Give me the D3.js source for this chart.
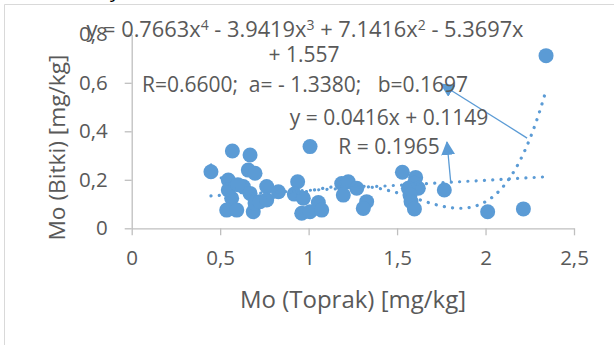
<!DOCTYPE html>
<html>
<head>
<meta charset="utf-8">
<script src="https://cdn.jsdelivr.net/npm/d3@7"></script>
<style>
  body { margin: 0; background: #fff; }
  svg { display: block; font-family: "Open Sans", sans-serif; }
</style>
</head>
<body>
<div id="chart"></div>
<script>
// Mo (Toprak) vs Mo (Bitki) [mg/kg]
const soilMo = [0.448, 0.546, 0.546, 0.565, 0.537, 0.569, 0.594, 0.631, 0.600, 0.659,
  0.669, 0.697, 0.669, 0.687, 0.697, 0.725, 0.763, 0.763, 0.829, 0.938,
  0.919, 0.970, 0.961, 1.008, 1.055, 1.074, 1.008, 1.187, 1.224, 1.196,
  1.272, 1.328, 1.309, 1.530, 1.605, 1.598, 1.620, 1.564, 1.573, 1.579,
  1.598, 1.767, 2.012, 2.214, 2.342]
const plantMo = [0.233, 0.199, 0.158, 0.124, 0.075, 0.319, 0.075, 0.172, 0.180, 0.240,
  0.302, 0.227, 0.144, 0.068, 0.104, 0.110, 0.172, 0.117, 0.151, 0.192,
  0.141, 0.124, 0.062, 0.068, 0.106, 0.075, 0.337, 0.185, 0.192, 0.137,
  0.165, 0.110, 0.082, 0.231, 0.210, 0.186, 0.165, 0.165, 0.137, 0.110,
  0.080, 0.158, 0.068, 0.080, 0.712]

const xTicks = [0, 0.5, 1, 1.5, 2, 2.5]
const yTicks = [0, 0.2, 0.4, 0.6, 0.8]

// trendlines shown on the chart
const linCoef = [0.0416, 0.1149]                              // slope, intercept
const polyCoef = [0.7663, -3.9419, 7.1416, -5.3697, 1.557]     // x^4 .. x^0

const width = 614, height = 345
const blue = '#5b9bd5', grey = '#595959', axisGrey = '#bfbfbf'

const svg = d3.select('#chart').append('svg')
  .attr('width', width)
  .attr('height', height)

// chart frame
svg.append('path')
  .attr('d', 'M4.5,' + height + 'V4.5H' + width)
  .attr('fill', 'none')
  .attr('stroke', '#d9d9d9')
// clipped caption fragment above the chart
svg.append('text')
  .attr('x', 110).attr('y', -3)
  .attr('font-size', 20).attr('fill', '#000')
  .text('y')

const x = d3.scaleLinear().domain([0, 2.5]).range([131.7, 574])
const y = d3.scaleLinear().domain([0, 0.8]).range([228.3, 34.3])
const fmt = d => String(d).replace('.', ',')

// axes
const gx = svg.append('g')
  .attr('transform', 'translate(0,' + y(0) + ')')
  .call(d3.axisBottom(x).tickValues(xTicks).tickFormat(fmt).tickSizeInner(7).tickSizeOuter(0).tickPadding(15))
const gy = svg.append('g')
  .attr('transform', 'translate(' + x(0) + ',0)')
  .call(d3.axisLeft(y).tickValues(yTicks).tickFormat(fmt).tickSizeInner(7).tickSizeOuter(0).tickPadding(17))
for (const g of [gx, gy]) {
  g.select('.domain').attr('stroke', axisGrey).attr('stroke-width', 1.3)
  g.selectAll('.tick line').attr('stroke', axisGrey).attr('stroke-width', 1.3)
  g.selectAll('.tick text').attr('fill', grey).attr('font-size', 20.5)
    .attr('font-family', '"Open Sans", sans-serif')
}

// axis titles
svg.append('text')
  .attr('x', 353).attr('y', 308)
  .attr('text-anchor', 'middle')
  .attr('font-size', 24).attr('fill', grey)
  .text('Mo (Toprak) [mg/kg]')
svg.append('text')
  .attr('transform', 'translate(65,' + 147.5 + ') rotate(-90)')
  .attr('text-anchor', 'middle')
  .attr('font-size', 22.7).attr('fill', grey)
  .text('Mo (Bitki) [mg/kg]')

const data = soilMo.map((v, i) => ({ x: v, y: plantMo[i] }))
const xMin = d3.min(soilMo), xMax = d3.max(soilMo)

// trendlines (dotted)
const line = d3.line().x(d => x(d[0])).y(d => y(d[1]))
const polyVal = v => polyCoef.reduce((acc, c) => acc * v + c, 0)
const polyPts = d3.range(0, 201).map(i => {
  const v = xMin + (xMax - xMin) * i / 200
  return [v, polyVal(v)]
})
const linPts = [xMin, xMax].map(v => [v, linCoef[0] * v + linCoef[1]])

// points
svg.append('g').selectAll('circle')
  .data(data)
  .enter()
  .append('circle')
  .attr('cx', d => x(d.x))
  .attr('cy', d => y(d.y))
  .attr('r', 7.5)
  .attr('fill', blue)

for (const pts of [linPts, polyPts]) {
  svg.append('path')
    .attr('d', line(pts))
    .attr('fill', 'none')
    .attr('stroke', blue)
    .attr('stroke-width', 3.2)
    .attr('stroke-linecap', 'round')
    .attr('stroke-dasharray', '0.1 8.2')
}

// arrows pointing to the equation labels
svg.append('defs').append('marker')
  .attr('id', 'head')
  .attr('markerUnits', 'userSpaceOnUse')
  .attr('markerWidth', 16).attr('markerHeight', 16)
  .attr('refX', 13).attr('refY', 7)
  .attr('orient', 'auto')
  .append('path')
  .attr('d', 'M0,0L14,7L0,14Z')
  .attr('fill', blue)
const arrows = [
  [[2.235, 0.372], [1.748, 0.595]],
  [[1.803, 0.192], [1.782, 0.356]]
]
svg.append('g').selectAll('line')
  .data(arrows)
  .enter()
  .append('line')
  .attr('x1', d => x(d[0][0])).attr('y1', d => y(d[0][1]))
  .attr('x2', d => x(d[1][0])).attr('y2', d => y(d[1][1]))
  .attr('stroke', blue)
  .attr('stroke-width', 1.3)
  .attr('marker-end', 'url(#head)')

// equation labels
const label = svg.append('g').attr('font-size', 21).attr('fill', grey)
const eq1 = label.append('text').attr('x', 305).attr('y', 37)
  .attr('text-anchor', 'middle').attr('font-size', 21.8)
const parts = [['y = 0.7663x', '4'], [' - 3.9419x', '3'], [' + 7.1416x', '2'], [' - 5.3697x', '']]
parts.forEach(([t, sup], i) => {
  const base = eq1.append('tspan').text(t)
  if (i > 0) base.attr('dy', 7)
  if (sup) eq1.append('tspan').attr('dy', -7).attr('font-size', 14).text(sup)
})
label.append('text').attr('x', 304).attr('y', 62).attr('text-anchor', 'middle').text('+ 1.557')
label.append('text').attr('x', 305).attr('y', 92).attr('text-anchor', 'middle')
  .style('white-space', 'pre')
  .text('R=0.6600;  a= - 1.3380;   b=0.1697')
label.append('text').attr('x', 389).attr('y', 125).attr('text-anchor', 'middle').text('y = 0.0416x + 0.1149')
label.append('text').attr('x', 389).attr('y', 154).attr('text-anchor', 'middle').text('R = 0.1965')
</script>
</body>
</html>
